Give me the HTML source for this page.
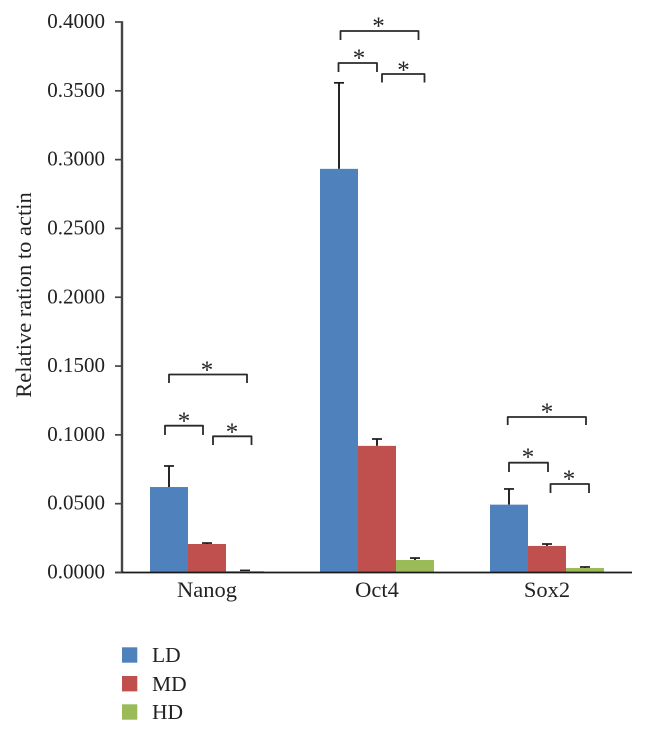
<!DOCTYPE html>
<html lang="en">
<head>
<meta charset="utf-8">
<title>Relative ration to actin</title>
<style>
html,body{margin:0;padding:0;background:#fff;}
#wrap{width:645px;height:734px;overflow:hidden;}
svg{display:block;}
text{font-family:"Liberation Serif",serif;fill:#222;}
</style>
</head>
<body>
<div id="wrap">
<svg id="chart" width="645" height="734" viewBox="0 0 645 734" xmlns="http://www.w3.org/2000/svg">
  <text transform="translate(31,295) rotate(-90)" text-anchor="middle" font-size="22.500">Relative ration to actin</text>
  <g id="plot"></g>
  <g fill="none" stroke="#2a2a2a" stroke-width="1.8" stroke-linejoin="round">
    <path d="M169 383V374.5H247V383"/>
    <path d="M165 435V425.7H203V435"/>
    <path d="M213 445V436.3H251.5V445"/>
    <path d="M340.5 40V31H418.5V40"/>
    <path d="M338.5 72V63H377V72"/>
    <path d="M382 82.5V74H424.5V82.5"/>
    <path d="M507.7 425V417H586V425"/>
    <path d="M509 472V462.7H548V472"/>
    <path d="M550.5 493V484H589V493"/>
  </g>
  <g font-size="25" text-anchor="middle">
    <text x="207" y="378">*</text>
    <text x="184" y="429">*</text>
    <text x="232" y="440">*</text>
    <text x="378.500" y="34">*</text>
    <text x="359" y="66">*</text>
    <text x="403.500" y="78">*</text>
    <text x="547" y="420">*</text>
    <text x="528" y="465">*</text>
    <text x="569" y="487">*</text>
  </g>
  <g>
    <rect x="122" y="647.300" width="15.300" height="15.400" fill="#4f81bd"/>
    <text x="152" y="662" font-size="21.500">LD</text>
    <rect x="122" y="676" width="15.300" height="15.400" fill="#c0504d"/>
    <text x="152" y="691" font-size="21.500">MD</text>
    <rect x="122" y="704.300" width="15.300" height="15.400" fill="#9bbb59"/>
    <text x="152" y="719" font-size="21.500">HD</text>
  </g>
</svg>
</div>
<script>
const categories = ['Nanog', 'Oct4', 'Sox2'];
const seriesNames = ['LD', 'MD', 'HD'];
const seriesLD = [0.0621, 0.2933, 0.0493];
const seriesMD = [0.0207, 0.0920, 0.0193];
const seriesHD = [0.0010, 0.0091, 0.0033];
const errorLD = [0.0153, 0.0625, 0.0114];
const errorMD = [0.0007, 0.0050, 0.0014];
const errorHD = [0.0005, 0.0014, 0.0007];
const yTickValues = [0, 0.05, 0.1, 0.15, 0.2, 0.25, 0.3, 0.35, 0.4];
const yTickLabels = ['0.0000', '0.0500', '0.1000', '0.1500', '0.2000', '0.2500', '0.3000', '0.3500', '0.4000'];

const NS = 'http://www.w3.org/2000/svg';
const plot = document.getElementById('plot');
const left = 122, right = 632, y0 = 572.5, yTop = 22, yMax = 0.4;
const groupW = (right - left) / categories.length;
const barW = 38;
const colors = ['#4f81bd', '#c0504d', '#9bbb59'];
const allValues = [seriesLD, seriesMD, seriesHD];
const allErrors = [errorLD, errorMD, errorHD];

function yScale(v) { return y0 - (v / yMax) * (y0 - yTop); }
function groupCenter(i) { return left + groupW * (i + 0.5); }
function barX(i, s) { return groupCenter(i) - barW * 1.5 + barW * s; }
function make(tag, attrs) {
  const el = document.createElementNS(NS, tag);
  for (const k in attrs) el.setAttribute(k, attrs[k]);
  plot.appendChild(el);
  return el;
}

categories.forEach(function (cat, i) {
  allValues.forEach(function (vals, s) {
    const top = yScale(vals[i]);
    const errTop = yScale(vals[i] + allErrors[s][i]);
    const cx = barX(i, s) + barW / 2;
    const stem = make('line', {x1: cx, x2: cx, y1: top, y2: errTop, stroke: '#1a1a1a', 'stroke-width': 1.9});
    
    
    const cap = make('line', {x1: cx - 5, x2: cx + 5, y1: errTop, y2: errTop, stroke: '#1a1a1a', 'stroke-width': 1.7});
    
    
    const bar = make('rect', {x: barX(i, s), y: top, width: barW, height: y0 - top, fill: colors[s]});
    
    
  });
  const label = make('text', {x: groupCenter(i), y: 597, 'text-anchor': 'middle', 'font-size': 22.5});
  label.textContent = cat;
  
  
});

const yAxis = make('line', {x1: left, x2: left, y1: yTop - 0.8, y2: y0, stroke: '#444', 'stroke-width': 2.4});



const xAxis = make('line', {x1: 115, x2: right, y1: y0, y2: y0, stroke: '#1a1a1a', 'stroke-width': 1.7});



yTickValues.forEach(function (v, i) {
  const y = yScale(v);
  const tick = make('line', {x1: 115, x2: left, y1: y, y2: y, stroke: '#444', 'stroke-width': 1.7});
  
  
  const label = make('text', {x: 105, y: y + 6, 'text-anchor': 'end', 'font-size': 21});
  label.textContent = yTickLabels[i];
  
  
});
</script>
</body>
</html>
